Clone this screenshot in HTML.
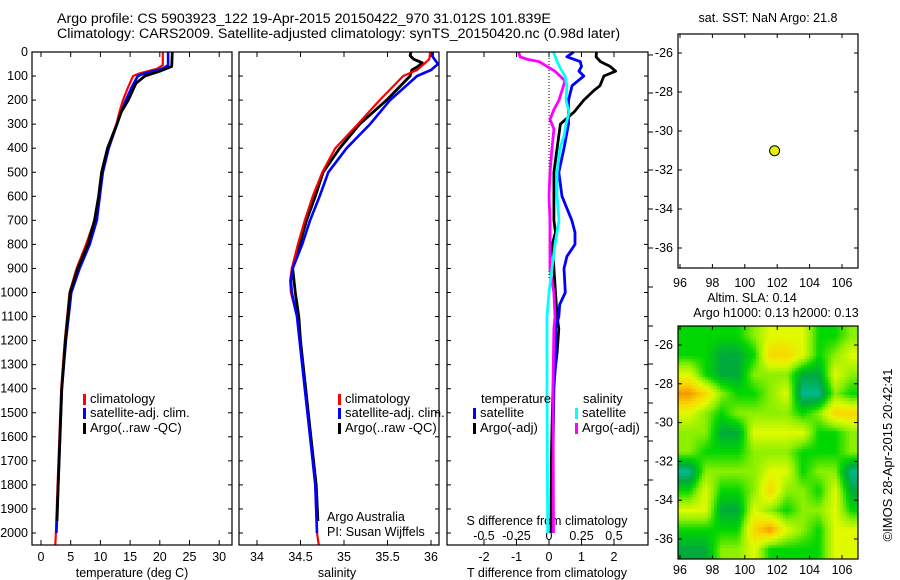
<!DOCTYPE html>
<html><head><meta charset="utf-8">
<style>
html,body{margin:0;padding:0;background:#fff;}
#wrap{position:relative;width:900px;height:580px;overflow:hidden;}
svg{position:absolute;left:0;top:0;}
text{font-family:"Liberation Sans",sans-serif;font-size:12.5px;fill:#000;}
#sla{position:absolute;left:678px;top:326px;}
</style></head>
<body>
<div id="wrap">
<canvas id="sla" width="180" height="233"></canvas>
<svg id="fig" width="900" height="580" xmlns="http://www.w3.org/2000/svg"></svg>
</div>
<script>
// ---------- data ----------
const depthTicks=[0,100,200,300,400,500,600,700,800,900,1000,1100,1200,1300,1400,1500,1600,1700,1800,1900,2000];
const tempTicks=[0,5,10,15,20,25,30];
const salTicks=[34,34.5,35,35.5,36];
const tdiffTicks=[-2,-1,0,1,2];
const sdiffTicks=[-0.5,-0.25,0,0.25,0.5];
const lonTicks=[96,98,100,102,104,106];
const latTicks=[-26,-28,-30,-32,-34,-36];

const tClimD=[0,55,70,90,100,150,200,250,300,400,500,600,700,800,900,1000,1200,1400,1600,1800,2000,2050];
const tClimV=[20.5,20.5,19.5,16.5,15.5,14.6,13.8,13.2,12.7,11.2,10.2,9.7,9.0,7.6,6.0,4.8,4.0,3.4,3.1,2.8,2.5,2.4];
const tSatD=[0,55,70,90,100,150,200,250,300,400,500,600,700,800,900,1000,1200,1400,1600,1800,2000];
const tSatV=[21.4,21.4,20.4,17.3,16.3,15.2,14.3,13.5,12.8,11.4,10.4,9.9,9.4,8.2,6.5,5.1,4.2,3.5,3.2,2.9,2.6];
const tArgoD=[0,60,80,100,130,200,250,300,400,500,600,700,800,900,1000,1200,1400,1600,1800,1950];
const tArgoV=[22.1,22.0,20.0,17.5,16.0,14.7,13.5,12.8,11.2,10.2,9.7,9.0,7.9,6.2,4.9,4.1,3.5,3.2,2.9,2.7];

const sClimD=[0,30,75,100,200,300,400,500,600,700,800,900,950,1000,1100,1200,1300,1400,1600,1800,2000,2050];
const sClimV=[35.99,35.98,35.84,35.68,35.41,35.16,34.9,34.75,34.64,34.55,34.47,34.40,34.38,34.39,34.46,34.49,34.52,34.55,34.61,34.67,34.69,34.71];
const sSatD=[0,20,50,75,100,200,300,400,500,600,700,800,900,950,1000,1100,1200,1300,1400,1600,1800,2000];
const sSatV=[36.02,36.02,36.08,36.0,35.84,35.53,35.3,35.03,34.82,34.72,34.61,34.52,34.41,34.39,34.40,34.46,34.49,34.52,34.55,34.61,34.67,34.69];
const sArgoD=[0,15,30,45,60,75,100,200,300,400,500,600,700,800,900,1000,1100,1200,1300,1400,1600,1800,1950];
const sArgoV=[35.77,35.76,35.80,35.90,35.85,35.78,35.76,35.49,35.18,34.95,34.76,34.67,34.57,34.49,34.41,34.44,34.48,34.50,34.53,34.56,34.62,34.68,34.70];

const dTsD=[0,20,40,60,80,100,140,200,300,400,500,600,700,750,800,850,900,1000,1050,1100,1150,1300,1400,1700,2000];
const dTsV=[0.76,0.55,0.96,1.0,0.92,1.07,0.71,0.6,0.6,0.46,0.3,0.4,0.7,0.8,0.8,0.55,0.46,0.5,0.33,0.3,0.2,0.2,0.15,0.12,0.1];
const dTaD=[0,20,40,60,80,100,140,160,200,250,300,400,500,600,700,750,800,900,1000,1100,1150,1250,1400,1700,2000];
const dTaV=[1.46,1.45,1.58,1.88,2.05,1.69,1.57,1.38,1.07,0.77,0.35,0.25,0.15,0.15,0.15,0.2,0.1,0.15,0.2,0.25,0.3,0.25,0.12,0.07,0.06];
const dSsD=[0,40,80,100,140,200,250,300,350,400,500,600,700,800,900,1000,1100,1400,2000];
const dSsV=[0.035,0.062,0.10,0.123,0.138,0.131,0.154,0.131,0.115,0.085,0.062,0.062,0.077,0.046,0.023,0,-0.015,-0.015,-0.01];
const dSaD=[0,20,30,40,60,80,100,120,160,200,240,280,320,400,500,600,700,800,900,1000,1100,1150,1400,2000];
const dSaV=[-0.234,-0.223,-0.169,-0.077,-0.015,0.046,0.085,0.123,0.1,0.077,0.038,0.008,0.038,0.023,0.008,0,0.008,0.008,0.008,0.038,0.046,0.038,0.03,0.035];

const floatLon=[101.839];
const floatLat=[-31.012];

// SLA levels, rows lat -25..-37 (1 deg), cols lon 96..107 (1 deg)
const slaGrid=[
[0,0,0,0,1,2,2,2,0,0,1],
[0,0,-1,-1,0,3,3,2,0,1,2],
[2,0,-1,-1,1,1,1,-1,-1,2,1],
[4,3,1,0,0,1,2,-2,-2,1,0],
[2,1,0,1,1,1,1,0,1,3,3],
[1,1,-1,-1,2,2,2,2,0,0,1],
[1,0,0,0,1,1,1,0,0,0,1],
[-2,1,1,1,1,2,2,0,1,1,-2],
[0,2,0,0,1,3,1,1,0,2,-1],
[2,2,-1,-1,2,1,0,1,1,2,0],
[0,0,0,0,3,4,2,1,0,2,2],
[-1,-1,1,1,2,0,0,0,0,2,2]];

// ---------- geometry ----------
const NS='http://www.w3.org/2000/svg';
const svg=document.getElementById('fig');
const TOP=52, BOT=545;
const yD=d=>TOP+d*0.2405;
const xT=t=>41+t*5.94;
const xS=s=>257+(s-34)*87;
const xDT=t=>549+t*32.5;
const xDS=s=>549+s*130;
const mX=l=>680+(l-96)*16.2;
const m1Y=l=>53+(-26-l)*19.5;
const m2Y=l=>345+(-26-l)*19.4;

function el(tag,attrs,parent){const e=document.createElementNS(NS,tag);for(const k in attrs)e.setAttribute(k,attrs[k]);(parent||svg).appendChild(e);return e;}
function txt(x,y,s,anchor,name,size){const t=el('text',{x:x,y:y,'text-anchor':anchor||'start'});if(size)t.style.fontSize=size+'px';t.textContent=s;return t;}
function line(x1,y1,x2,y2,name,extra){const l=el('line',Object.assign({x1:x1,y1:y1,x2:x2,y2:y2,stroke:'#000','stroke-width':1},extra||{}));return l;}
function frame(x1,y1,x2,y2,name){const r=el('rect',{x:x1,y:y1,width:x2-x1,height:y2-y1,fill:'none',stroke:'#000','stroke-width':1.2});}
function poly(D,V,xf,color,w,name){const pts=D.map((d,i)=>xf(V[i]).toFixed(1)+','+yD(d).toFixed(1)).join(' ');const p=el('polyline',{points:pts,fill:'none',stroke:color,'stroke-width':w,'stroke-linejoin':'round'});}

// titles
txt(57,23,'Argo profile: CS 5903923_122 19-Apr-2015 20150422_970 31.012S 101.839E','start','title-line-1',14.2);
txt(57,38,'Climatology: CARS2009. Satellite-adjusted climatology: synTS_20150420.nc (0.98d later)','start','title-line-2',14.2);

const P1=[32,232],P2=[239,439],P3=[447,648];
depthTicks.forEach(d=>{
  const y=yD(d);
  txt(28,y+4,String(d),'end','depth-tick-label');
  [P1,P2,P3].forEach(p=>{line(p[0],y,p[0]+4,y,'depth-tick');line(p[1]-4,y,p[1],y,'depth-tick');});
});
tempTicks.forEach(t=>{const x=xT(t);line(x,TOP,x,TOP+5,'temp-tick');line(x,BOT-5,x,BOT,'temp-tick');txt(x,561,String(t),'middle','temp-tick-label');});
txt(132,577,'temperature (deg C)','middle','temp-axis-title');
salTicks.forEach(s=>{const x=xS(s);line(x,TOP,x,TOP+5,'sal-tick');line(x,BOT-5,x,BOT,'sal-tick');txt(x,561,String(s),'middle','sal-tick-label');});
txt(337,577,'salinity','middle','sal-axis-title');
tdiffTicks.forEach(t=>{const x=xDT(t);line(x,TOP,x,TOP+5,'tdiff-tick');line(x,BOT-5,x,BOT,'tdiff-tick');txt(x,561,String(t),'middle','tdiff-tick-label');});
txt(547,577,'T difference from climatology','middle','tdiff-axis-title');
sdiffTicks.forEach(s=>{const x=xDS(s);line(x,BOT-6,x,BOT,'sdiff-tick');txt(x,540,String(s),'middle','sdiff-tick-label');});
txt(547,525,'S difference from climatology','middle','sdiff-axis-title');
[55,93,132,170,209,248,287,326,364,403,441,480].forEach(y=>line(648,y,653,y,'right-tick'));
line(549,TOP,549,280,'zero-line',{'stroke-dasharray':'1,2'});

poly(tClimD,tClimV,xT,'#ff0000',2.2,'temp-climatology-line');
poly(tSatD,tSatV,xT,'#0000ff',2.6,'temp-satellite-line');
poly(tArgoD,tArgoV,xT,'#000000',2.8,'temp-argo-line');
poly(sArgoD,sArgoV,xS,'#000000',2.8,'sal-argo-line');
poly(sClimD,sClimV,xS,'#ff0000',2.2,'sal-climatology-line');
poly(sSatD,sSatV,xS,'#0000ff',2.6,'sal-satellite-line');
poly(dTaD,dTaV,xDT,'#000000',2.8,'tdiff-argo-line');
poly(dTsD,dTsV,xDT,'#0000ff',2.8,'tdiff-satellite-line');
poly(dSaD,dSaV,xDS,'#ff00ff',2.8,'sdiff-argo-line');
poly(dSsD,dSsV,xDS,'#00ffff',2.8,'sdiff-satellite-line');

[P1,P2,P3].forEach((p,i)=>frame(p[0],TOP,p[1],BOT,'panel-frame-'+(i+1)));

function leg(x,y,color,label,name){const r=el('rect',{x:x,y:y-5,width:3,height:11,fill:color});txt(x+7,y+4,label,'start',name+'-label',13);}
leg(83,399,'#ff0000','climatology','legend-temp-clim');
leg(83,413,'#0000ff','satellite-adj. clim.','legend-temp-sat');
leg(83,428,'#000000','Argo(..raw -QC)','legend-temp-argo');
leg(338,399,'#ff0000','climatology','legend-sal-clim');
leg(338,413,'#0000ff','satellite-adj. clim.','legend-sal-sat');
leg(338,428,'#000000','Argo(..raw -QC)','legend-sal-argo');
txt(481,403,'temperature','start','legend-diff-temp-header',13);
leg(473,413,'#0000ff','satellite','legend-diff-tsat');
leg(473,428,'#000000','Argo(-adj)','legend-diff-targo');
txt(583,403,'salinity','start','legend-diff-sal-header',13);
leg(575,413,'#00ffff','satellite','legend-diff-ssat');
leg(575,428,'#ff00ff','Argo(-adj)','legend-diff-sargo');
txt(327,521,'Argo Australia','start','credit-line-1');
txt(327,536,'PI: Susan Wijffels','start','credit-line-2');

const M1=[678,34,858,268];
txt(768,22,'sat. SST: NaN Argo: 21.8','middle','sst-map-title');
latTicks.forEach(l=>{const y=m1Y(l);line(M1[0],y,M1[0]+4,y,'lat-tick');line(M1[2]-4,y,M1[2],y,'lat-tick');txt(673,y+4,String(l),'end','sst-lat-label');});
lonTicks.forEach(l=>{const x=mX(l);line(x,M1[1],x,M1[1]+4,'lon-tick');line(x,M1[3]-4,x,M1[3],'lon-tick');txt(x,287,String(l),'middle','sst-lon-label');});
frame(M1[0],M1[1],M1[2],M1[3],'sst-map-frame');
floatLon.forEach((lo,i)=>{const c=el('circle',{cx:mX(lo),cy:m1Y(floatLat[i]),r:5,fill:'#e6f000',stroke:'#000','stroke-width':1});});

const M2=[678,326,858,559];
txt(752,302,'Altim. SLA: 0.14','middle','sla-map-title-1');
txt(776,317,'Argo h1000: 0.13 h2000: 0.13','middle','sla-map-title-2');
latTicks.forEach(l=>{const y=m2Y(l);line(M2[0],y,M2[0]+4,y,'lat-tick');line(M2[2]-4,y,M2[2],y,'lat-tick');txt(673,y+4,String(l),'end','sla-lat-label');});
lonTicks.forEach(l=>{const x=mX(l);line(x,M2[1],x,M2[1]+4,'lon-tick');line(x,M2[3]-4,x,M2[3],'lon-tick');txt(x,574,String(l),'middle','sla-lon-label');});
frame(M2[0],M2[1],M2[2],M2[3],'sla-map-frame');
const rot=txt(0,0,'©IMOS 28-Apr-2015 20:42:41','middle','timestamp-label',13);
rot.setAttribute('transform','translate(892,455) rotate(-90)');

const cmap=[[-2,[0,185,140]],[-1,[0,170,60]],[0,[0,215,0]],[1,[140,240,0]],[2,[225,250,0]],[3,[250,215,0]],[4,[245,150,0]]];
function col(v){for(let i=0;i<cmap.length-1;i++){const a=cmap[i],b=cmap[i+1];if(v<=b[0]||i==cmap.length-2){let f=(v-a[0])/(b[0]-a[0]);f=Math.max(0,Math.min(1,f));return a[1].map((c,k)=>Math.round(c+(b[1][k]-c)*f));}}}
const cv=document.getElementById('sla'),ctx=cv.getContext('2d');
const rows=slaGrid.length,cols=slaGrid[0].length;
const lon0=95.8,lonSpan=(858-678)/16.2,lat0=-25,latSpan=12;
function sample(lo,la){
  let cx=(lo-96)-0.5, cy=(-25-la)-0.5;
  cx=Math.max(0,Math.min(cols-1,cx));cy=Math.max(0,Math.min(rows-1,cy));
  const i0=Math.floor(cx),j0=Math.floor(cy),i1=Math.min(cols-1,i0+1),j1=Math.min(rows-1,j0+1);
  const fx=cx-i0,fy=cy-j0;
  return (slaGrid[j0][i0]*(1-fx)+slaGrid[j0][i1]*fx)*(1-fy)+(slaGrid[j1][i0]*(1-fx)+slaGrid[j1][i1]*fx)*fy;
}
const B=3;
for(let py=0;py<cv.height;py+=B){for(let px=0;px<cv.width;px+=B){
  const lo=lon0+(px+B/2)/cv.width*lonSpan, la=lat0-(py+B/2)/cv.height*latSpan;
  const c=col(sample(lo,la));ctx.fillStyle='rgb('+c.join(',')+')';ctx.fillRect(px,py,B,B);
}}
</script>
</body></html>
